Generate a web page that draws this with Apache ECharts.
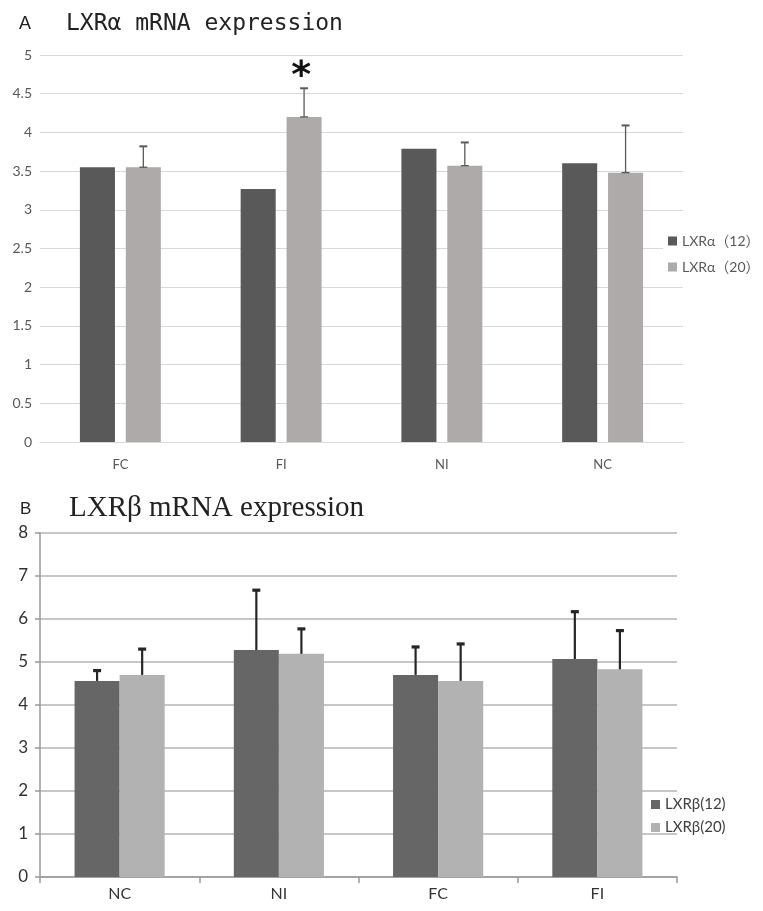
<!DOCTYPE html>
<html><head><meta charset="utf-8">
<script src="https://cdn.jsdelivr.net/npm/echarts@6/dist/echarts.min.js"></script>
<style>html,body{margin:0;padding:0;background:#fff}#c{width:763px;height:911px}</style>
</head><body><div id="c"></div>
<script>
// ---- Panel A data ----
const catsA = ['FC', 'FI', 'NI', 'NC'];
const lxra12 = [3.55, 3.27, 3.79, 3.60];
const lxra20 = [3.55, 4.20, 3.57, 3.48];
const lxra20Err = [0.27, 0.37, 0.30, 0.61];
const sigA = ['', '*', '', ''];
// ---- Panel B data ----
const catsB = ['NC', 'NI', 'FC', 'FI'];
const lxrb12 = [4.56, 5.28, 4.70, 5.07];
const lxrb12Err = [0.24, 1.39, 0.65, 1.10];
const lxrb20 = [4.70, 5.19, 4.56, 4.83];
const lxrb20Err = [0.60, 0.58, 0.86, 0.90];

const namesA = ['LXRα（12）', 'LXRα（20）'];
const namesB = ['LXRβ(12)', 'LXRβ(20)'];

function errData(vals, errs) {
  return vals.map((v, i) => [i, v, v + errs[i]]);
}
function errRender(offsetFrac, color, lw, capHalf, capLw, baseCap, sig) {
  return function (params, api) {
    const i = api.value(0), mean = api.value(1), up = api.value(2);
    const band = api.size([1, 0])[0];
    const p0 = api.coord([i, mean]);
    const p1 = api.coord([i, up]);
    const x = p0[0] + band * offsetFrac;
    const ch = [
      { type: 'line', shape: { x1: x, y1: p0[1], x2: x, y2: p1[1] }, style: { stroke: color, lineWidth: lw } },
      { type: 'line', shape: { x1: x - capHalf, y1: p1[1], x2: x + capHalf, y2: p1[1] }, style: { stroke: color, lineWidth: capLw } }
    ];
    if (baseCap) ch.push({ type: 'line', shape: { x1: x - capHalf, y1: p0[1], x2: x + capHalf, y2: p0[1] }, style: { stroke: color, lineWidth: lw } });
    if (sig && sig[params.dataIndex]) {
      ch.push({ type: 'text', style: { text: sig[params.dataIndex], x: x - 3, y: p1[1] - 11, align: 'center', verticalAlign: 'middle',
        font: 'bold 38px "DejaVu Sans"', fill: '#111' } });
    }
    return { type: 'group', children: ch };
  };
}

const sansA = 'Lato, "Noto Sans CJK SC", sans-serif';
const chart = echarts.init(document.getElementById('c'), null, { renderer: 'canvas' });
chart.setOption({
  animation: false,
  backgroundColor: '#fff',
  title: [
    { text: 'A', left: 14, top: 10, textStyle: { fontFamily: '"Liberation Sans", Arial', fontSize: 18, fontWeight: 'normal', color: '#222' } },
    { text: 'LXRα mRNA expression', left: 61, top: 8, textStyle: { fontFamily: '"DejaVu Sans Mono", monospace', fontSize: 23, fontWeight: 'normal', color: '#222' } },
    { text: 'B', left: 15, top: 496, textStyle: { fontFamily: '"Liberation Sans", Arial', fontSize: 17, fontWeight: 'normal', color: '#222' } },
    { text: 'LXRβ mRNA expression', left: 64, top: 489, textStyle: { fontFamily: '"Liberation Serif", "Times New Roman", serif', fontSize: 29, fontWeight: 'normal', color: '#222' } }
  ],
  legend: [
    { data: namesA, orient: 'vertical', left: 663, top: 229, padding: [5, 5, 5, 5], backgroundColor: '#fff',
      itemWidth: 9, itemHeight: 9, itemGap: 12, icon: 'rect',
      textStyle: { fontFamily: sansA, fontSize: 14, color: '#595959' } },
    { data: namesB, orient: 'vertical', left: 647, top: 793, padding: [4, 4, 4, 4],
      itemWidth: 9, itemHeight: 9, itemGap: 8, icon: 'rect',
      textStyle: { fontFamily: sansA, fontSize: 15, color: '#404040' } }
  ],
  grid: [
    { left: 40, right: 80, top: 55, height: 387 },
    { left: 40, right: 86, top: 533, height: 344 }
  ],
  xAxis: [
    { type: 'category', gridIndex: 0, data: catsA,
      axisLine: { show: true, lineStyle: { color: '#d9d9d9', width: 1.2 } }, axisTick: { show: false },
      axisLabel: { margin: 16, fontFamily: sansA, fontSize: 13, color: '#595959' } },
    { type: 'category', gridIndex: 1, data: catsB,
      axisLine: { show: true, lineStyle: { color: '#999', width: 1.5 } },
      axisTick: { show: true, length: 6, lineStyle: { color: '#999', width: 1.5 } },
      axisLabel: { margin: 9, fontFamily: sansA, fontSize: 16, color: '#333' } }
  ],
  yAxis: [
    { type: 'value', gridIndex: 0, min: 0, max: 5, interval: 0.5,
      axisLine: { show: false }, axisTick: { show: false },
      splitLine: { lineStyle: { color: '#d9d9d9', width: 1.2 } },
      axisLabel: { margin: 8, fontFamily: sansA, fontSize: 14, color: '#595959' } },
    { type: 'value', gridIndex: 1, min: 0, max: 8, interval: 1,
      axisLine: { show: true, lineStyle: { color: '#999', width: 1.5 } },
      axisTick: { show: true, length: 5, lineStyle: { color: '#999', width: 1.5 } },
      splitLine: { lineStyle: { color: '#b4b4b4', width: 1.5 } },
      axisLabel: { margin: 12, fontFamily: sansA, fontSize: 17, color: '#333' } }
  ],
  series: [
    { name: namesA[0], type: 'bar', xAxisIndex: 0, yAxisIndex: 0, data: lxra12, barWidth: '21.8%', barGap: '31%',
      itemStyle: { color: '#595959' } },
    { name: namesA[1], type: 'bar', xAxisIndex: 0, yAxisIndex: 0, data: lxra20, barWidth: '21.8%', barGap: '31%',
      itemStyle: { color: '#aeaaaa' } },
    { type: 'custom', xAxisIndex: 0, yAxisIndex: 0, data: errData(lxra20, lxra20Err), z: 5,
      encode: { x: 0, y: [1, 2] }, renderItem: errRender(0.1428, '#5a5a5a', 1.3, 4, 2, true, sigA) },
    { name: namesB[0], type: 'bar', xAxisIndex: 1, yAxisIndex: 1, data: lxrb12, barWidth: '28.3%', barGap: '0%',
      itemStyle: { color: '#666666' } },
    { name: namesB[1], type: 'bar', xAxisIndex: 1, yAxisIndex: 1, data: lxrb20, barWidth: '28.3%', barGap: '0%',
      itemStyle: { color: '#b2b2b2' } },
    { type: 'custom', xAxisIndex: 1, yAxisIndex: 1, data: errData(lxrb12, lxrb12Err), z: 5,
      encode: { x: 0, y: [1, 2] }, renderItem: errRender(-0.1415, '#262626', 2.2, 4, 3.2, false, null) },
    { type: 'custom', xAxisIndex: 1, yAxisIndex: 1, data: errData(lxrb20, lxrb20Err), z: 5,
      encode: { x: 0, y: [1, 2] }, renderItem: errRender(0.1415, '#262626', 2.2, 4, 3.2, false, null) }
  ]
});
</script></body></html>
